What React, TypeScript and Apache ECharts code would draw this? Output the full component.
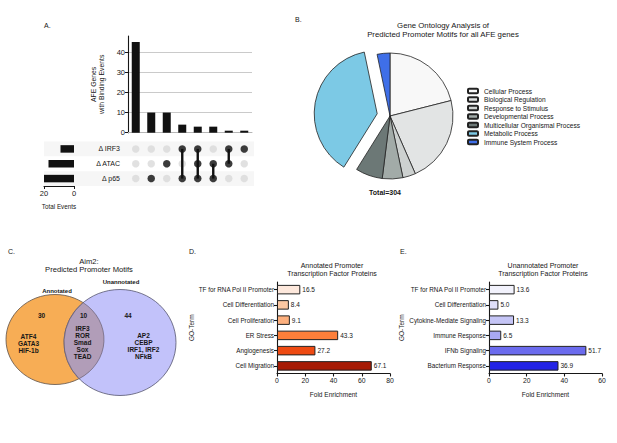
import React, { useEffect, useRef } from "react";
import * as echarts from "echarts";

const FONT = "'Liberation Sans', Arial, Helvetica, sans-serif";
const INK = "#161616";

// ---------- Panel A: UpSet ----------
const intersectionCols = ["i1", "i2", "i3", "i4", "i5", "i6", "i7", "i8"];
const intersectionSizes = [45, 10, 10, 4, 3, 3, 1, 1];
const setNames = ["Δ IRF3", "Δ ATAC", "Δ p65"];
const setTotals = [9, 17, 20];
// row indices (0 = IRF3, 1 = ATAC, 2 = p65) that belong to each intersection
const membership = [[], [2], [1], [0, 2], [0, 1, 2], [1, 2], [0, 1], [0]];
const upsetGridValues = [10, 20, 30, 40];

// ---------- Panel B: pie ----------
const goCategories = [
  "Cellular Process",
  "Biological Regulation",
  "Response to Stimulus",
  "Developmental Process",
  "Multicellular Organismal Process",
  "Metabolic Process",
  "Immune System Process",
];
const goCounts = [64, 68, 10, 16, 21, 115, 10];
const goColors = ["#f8f8f8", "#e2e4e4", "#cdd1d0", "#a2aba8", "#6c7876", "#7cc9e5", "#3f6fe8"];
const goExploded = [false, false, false, false, false, true, false];
const goTotal = 304;

// ---------- Panel C: Venn ----------
const annotatedOnly = 30;
const sharedCount = 10;
const unannotatedOnly = 44;
const annotatedTFs = ["ATF4", "GATA3", "HIF-1b"];
const sharedTFs = ["IRF3", "ROR", "Smad", "Sox", "TEAD"];
const unannotatedTFs = ["AP2", "CEBP", "IRF1, IRF2", "NFkB"];

// ---------- Panel D ----------
const annotatedTerms = [
  "TF for RNA Pol II Promoter",
  "Cell Differentiation",
  "Cell Proliferation",
  "ER Stress",
  "Angiogenesis",
  "Cell Migration",
];
const annotatedFold = [16.5, 8.4, 9.1, 43.3, 27.2, 67.1];
const annotatedColors = ["#fde8dc", "#fcc8a2", "#fdb07e", "#fd7f3a", "#ee4a12", "#a61b05"];

// ---------- Panel E ----------
const unannotatedTerms = [
  "TF for RNA Pol II Promoter",
  "Cell Differentiation",
  "Cytokine-Mediate Signaling",
  "Immune Response",
  "IFNb Signaling",
  "Bacterium Response",
];
const unannotatedFold = [13.6, 5.0, 13.3, 6.5, 51.7, 36.9];
const unannotatedColors = ["#f2f2fc", "#dedefa", "#c5c5f6", "#a9a9f2", "#6b6bee", "#2323e6"];

// ---------- Venn geometry ----------
const ORANGE = { cx: 55, cy: 339.5, rx: 49, ry: 45 };
const BLUE = { cx: 120, cy: 342.5, rx: 56, ry: 53 };

function lensPath(): string {
  const pt = (t: number) => [ORANGE.cx + ORANGE.rx * Math.cos(t), ORANGE.cy + ORANGE.ry * Math.sin(t)];
  const f = (t: number) => {
    const [x, y] = pt(t);
    return ((x - BLUE.cx) / BLUE.rx) ** 2 + ((y - BLUE.cy) / BLUE.ry) ** 2 - 1;
  };
  const bis = (a: number, b: number) => {
    for (let i = 0; i < 60; i++) {
      const m = (a + b) / 2;
      if (f(a) * f(m) <= 0) b = m;
      else a = m;
    }
    return (a + b) / 2;
  };
  const p1 = pt(bis(-Math.PI / 2, 0));
  const p2 = pt(bis(0, Math.PI / 2));
  return `M${p1[0]} ${p1[1]} A${ORANGE.rx} ${ORANGE.ry} 0 0 1 ${p2[0]} ${p2[1]} A${BLUE.rx} ${BLUE.ry} 0 0 1 ${p1[0]} ${p1[1]} Z`;
}

let lensRegistered = false;
function ensureLens() {
  if (lensRegistered) return;
  echarts.graphic.registerShape("vennLens", echarts.graphic.extendPath(lensPath(), {}) as any);
  lensRegistered = true;
}

// layout
const MATRIX = { left: 128, top: 141.5, width: 124, height: 44.5 };

function txt(x: number, y: number, text: string, size: number, opts: any = {}) {
  return {
    type: "text",
    x,
    y,
    silent: true,
    style: {
      text,
      fontSize: size,
      fontFamily: FONT,
      fill: opts.fill || INK,
      fontWeight: opts.bold ? "bold" : "normal",
      align: opts.align || "center",
      verticalAlign: "middle",
      lineHeight: opts.lineHeight,
    },
  };
}

export default function App() {
  const ref = useRef<HTMLDivElement>(null);

  useEffect(() => {
    if (!ref.current) return;
    ensureLens();
    const chart = echarts.init(ref.current, null, { renderer: "svg" });

    const allCells: number[][] = [];
    intersectionCols.forEach((_, c) => setNames.forEach((__, r) => allCells.push([c, r])));
    const memberCells: number[][] = [];
    membership.forEach((rows, c) => rows.forEach((r) => memberCells.push([c, r])));
    const connectors = membership
      .map((rows, c) => (rows.length > 1 ? [c, Math.min(...rows), Math.max(...rows)] : null))
      .filter(Boolean) as number[][];

    const rowH = MATRIX.height / setNames.length;
    const stripes = [0, 2].map((r) => ({
      type: "rect",
      silent: true,
      z: -1,
      shape: { x: 44, y: MATRIX.top + r * rowH, width: 254 - 44, height: rowH },
      style: { fill: "#f6f6f6" },
    }));

    const axisText = { fontFamily: FONT, color: INK };

    const barAxis = (grid: number, max: number) => ({
      type: "value",
      gridIndex: grid,
      min: 0,
      max,
      interval: 20,
      axisLine: { show: true, lineStyle: { color: INK, width: 1.1 } },
      axisTick: { show: true, length: 3, lineStyle: { color: INK, width: 1.1 } },
      axisLabel: { ...axisText, fontSize: 6.8, margin: 3 },
      splitLine: { show: false },
      name: "Fold Enrichment",
      nameLocation: "middle",
      nameGap: 17,
      nameTextStyle: { ...axisText, fontSize: 6.5 },
    });
    const catAxis = (grid: number, data: string[], gap: number) => ({
      type: "category",
      gridIndex: grid,
      data,
      inverse: true,
      axisLine: { show: true, lineStyle: { color: INK, width: 1.1 } },
      axisTick: { show: true, length: 3, alignWithLabel: true, lineStyle: { color: INK, width: 1.1 } },
      axisLabel: { ...axisText, fontSize: 6.3, margin: 3, interval: 0 },
      name: "GO-Term",
      nameLocation: "middle",
      nameGap: gap,
      nameTextStyle: { ...axisText, fontSize: 6.5 },
    });
    const foldSeries = (axis: number, vals: number[], colors: string[]) => ({
      type: "bar",
      xAxisIndex: axis,
      yAxisIndex: axis,
      barWidth: 9.5,
      data: vals.map((v, i) => ({ value: v, itemStyle: { color: colors[i] } })),
      itemStyle: { borderColor: "#222", borderWidth: 1 },
      label: {
        show: true,
        position: "right",
        distance: 2,
        fontSize: 6.5,
        fontFamily: FONT,
        color: INK,
        formatter: (p: any) => Number(p.value).toFixed(1),
      },
      silent: true,
    });

    const option: any = {
      animation: false,
      backgroundColor: "#ffffff",
      textStyle: { fontFamily: FONT },
      grid: [
        { left: 128, top: 36, width: 124, height: 96.7 },
        { left: MATRIX.left, top: MATRIX.top, width: MATRIX.width, height: MATRIX.height },
        { left: 44, top: MATRIX.top, width: 30, height: MATRIX.height },
        { left: 277, top: 282, width: 113, height: 91.5 },
        { left: 489, top: 282, width: 113, height: 91.5 },
      ],
      xAxis: [
        {
          type: "category",
          gridIndex: 0,
          data: intersectionCols,
          axisLine: { show: true, lineStyle: { color: "#b5b5b5", width: 1 } },
          axisTick: { show: false },
          axisLabel: { show: false },
        },
        { type: "category", gridIndex: 1, data: intersectionCols, show: false },
        {
          type: "value",
          gridIndex: 2,
          inverse: true,
          min: 0,
          max: 20,
          interval: 20,
          axisLine: { show: true, lineStyle: { color: INK, width: 1.1 } },
          axisTick: { show: true, length: 3, lineStyle: { color: INK } },
          axisLabel: { ...axisText, fontSize: 7.5, margin: 3 },
          splitLine: { show: false },
          name: "Total Events",
          nameLocation: "middle",
          nameGap: 17,
          nameTextStyle: { ...axisText, fontSize: 6.3 },
        },
        barAxis(3, 80),
        barAxis(4, 60),
      ],
      yAxis: [
        {
          type: "value",
          gridIndex: 0,
          min: 0,
          max: 48,
          interval: 10,
          axisLine: { show: true, lineStyle: { color: INK, width: 1.1 } },
          axisTick: { show: true, length: 3, lineStyle: { color: INK } },
          axisLabel: { ...axisText, fontSize: 7.5, margin: 3, showMaxLabel: false },
          splitLine: { show: false },
          name: "AFE Genes\nwith Binding Events",
          nameLocation: "middle",
          nameRotate: 90,
          nameGap: 23,
          nameTextStyle: { ...axisText, fontSize: 6.8, lineHeight: 7.5 },
        },
        {
          type: "category",
          gridIndex: 1,
          data: setNames,
          inverse: true,
          axisLine: { show: false },
          axisTick: { show: false },
          axisLabel: { ...axisText, fontSize: 7, margin: 8 },
        },
        { type: "category", gridIndex: 2, data: setNames, inverse: true, show: false },
        catAxis(3, annotatedTerms, 80),
        catAxis(4, unannotatedTerms, 84),
      ],
      legend: {
        data: goCategories,
        orient: "vertical",
        left: 467,
        top: 87.5,
        padding: 0,
        itemWidth: 10,
        itemHeight: 4.5,
        itemGap: 1.5,
        selectedMode: false,
        textStyle: { fontFamily: FONT, fontSize: 6.6, color: INK, padding: [0, 0, 0, 1] },
      },
      series: [
        {
          type: "bar",
          xAxisIndex: 0,
          yAxisIndex: 0,
          data: intersectionSizes,
          barWidth: 8,
          itemStyle: { color: "#111" },
          silent: true,
          markLine: {
            silent: true,
            symbol: "none",
            label: { show: false },
            lineStyle: { color: "#bdbdbd", type: "solid", width: 0.8 },
            data: upsetGridValues.map((v) => ({ yAxis: v })),
            z: 0,
          },
        },
        {
          type: "scatter",
          xAxisIndex: 1,
          yAxisIndex: 1,
          data: allCells,
          symbolSize: 7.5,
          itemStyle: { color: "#d9d9d9" },
          silent: true,
          z: 1,
        },
        {
          type: "custom",
          xAxisIndex: 1,
          yAxisIndex: 1,
          data: connectors,
          silent: true,
          z: 2,
          renderItem: (_p: any, api: any) => {
            const a = api.coord([api.value(0), api.value(1)]);
            const b = api.coord([api.value(0), api.value(2)]);
            return {
              type: "line",
              shape: { x1: a[0], y1: a[1], x2: b[0], y2: b[1] },
              style: { stroke: "#111", lineWidth: 2.4 },
            };
          },
        },
        {
          type: "scatter",
          xAxisIndex: 1,
          yAxisIndex: 1,
          data: memberCells,
          symbolSize: 7.5,
          itemStyle: { color: "#111" },
          silent: true,
          z: 3,
        },
        {
          type: "bar",
          xAxisIndex: 2,
          yAxisIndex: 2,
          data: setTotals,
          barWidth: 7.5,
          itemStyle: { color: "#111" },
          silent: true,
        },
        {
          type: "pie",
          center: [390, 116],
          radius: 63,
          startAngle: 90,
          clockwise: true,
          selectedMode: "multiple",
          selectedOffset: 13,
          label: { show: false },
          labelLine: { show: false },
          emphasis: { disabled: true },
          itemStyle: { borderColor: "#222", borderWidth: 0.8 },
          data: goCategories.map((name, i) => ({
            name,
            value: goCounts[i],
            selected: goExploded[i],
            itemStyle: { color: goColors[i] },
          })),
        },
        foldSeries(3, annotatedFold, annotatedColors),
        foldSeries(4, unannotatedFold, unannotatedColors),
      ],
      graphic: [
        ...stripes,
        // panel letters
        txt(44, 25, "A.", 7, { align: "left" }),
        txt(295, 19, "B.", 7, { align: "left" }),
        txt(8, 251, "C.", 7, { align: "left" }),
        txt(189, 251, "D.", 7, { align: "left" }),
        txt(400, 251, "E.", 7, { align: "left" }),
        // titles
        txt(443, 29.5, "Gene Ontology Analysis of\nPredicted Promoter Motifs for all AFE genes", 7.8, { lineHeight: 9 }),
        txt(385, 192, `Total=${goTotal}`, 7, { bold: true }),
        txt(89, 265.5, "Aim2:\nPredicted Promoter Motifs", 7.6, { lineHeight: 8 }),
        txt(332, 269, "Annotated Promoter\nTranscription Factor Proteins", 7, { lineHeight: 8 }),
        txt(543, 269.5, "Unannotated Promoter\nTranscription Factor Proteins", 7, { lineHeight: 8 }),
        // Venn
        {
          type: "ellipse",
          silent: true,
          shape: { cx: ORANGE.cx, cy: ORANGE.cy, rx: ORANGE.rx, ry: ORANGE.ry },
          style: { fill: "#f7ad55", stroke: "#5d5048", lineWidth: 0.8 },
        },
        {
          type: "ellipse",
          silent: true,
          shape: { cx: BLUE.cx, cy: BLUE.cy, rx: BLUE.rx, ry: BLUE.ry },
          style: { fill: "#c2c2fa", stroke: "#55556e", lineWidth: 0.8 },
        },
        {
          type: "vennLens",
          silent: true,
          x: 0,
          y: 0,
          style: { fill: "#b19db8", stroke: "#5a5060", lineWidth: 0.6 },
        },
        txt(57, 290.5, "Annotated", 6, { bold: true }),
        txt(121, 281.5, "Unannotated", 6, { bold: true }),
        txt(41.5, 315, String(annotatedOnly), 6.5, { bold: true }),
        txt(83.5, 315, String(sharedCount), 6.5, { bold: true }),
        txt(128, 315, String(unannotatedOnly), 6.5, { bold: true }),
        txt(28.5, 343.3, annotatedTFs.join("\n"), 6.5, { bold: true, lineHeight: 6.8 }),
        txt(82.5, 342.3, sharedTFs.join("\n"), 6.5, { bold: true, lineHeight: 7.1 }),
        txt(143.5, 345.8, unannotatedTFs.join("\n"), 6.5, { bold: true, lineHeight: 7.2 }),
      ],
    };

    chart.setOption(option);
    return () => chart.dispose();
  }, []);

  return (
    <div
      ref={ref}
      style={{ position: "fixed", left: 0, top: 0, width: 617, height: 443, background: "#fff" }}
    />
  );
}
